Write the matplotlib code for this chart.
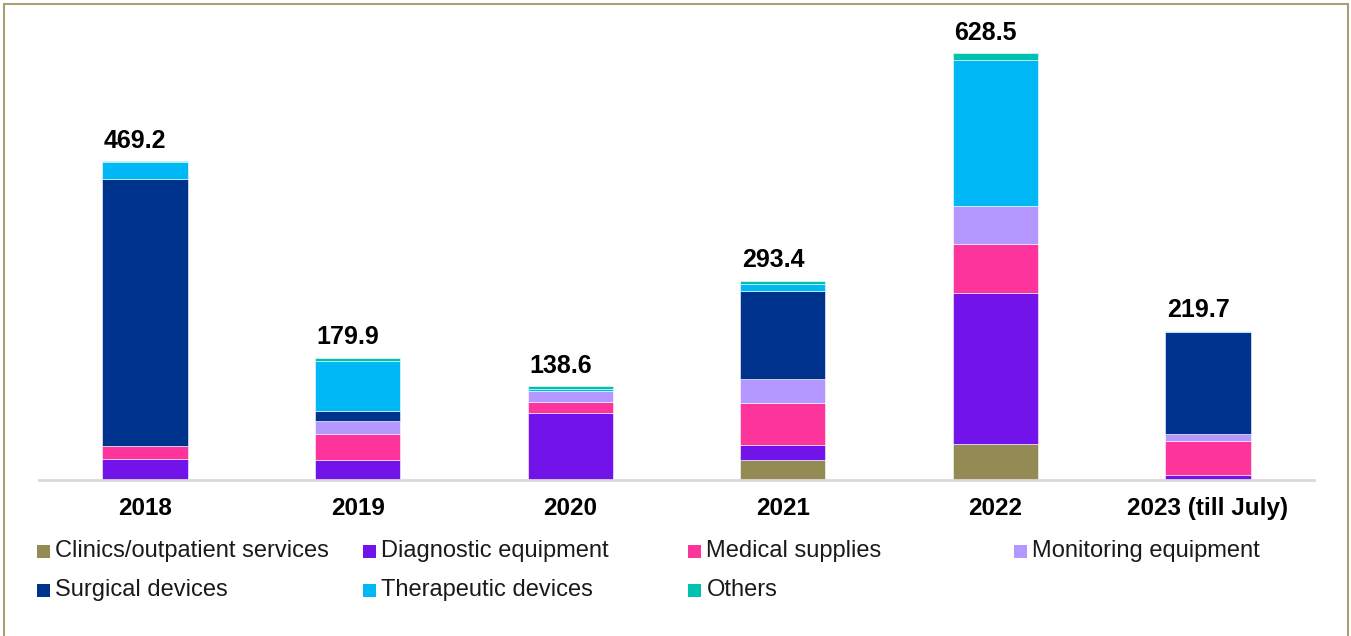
import matplotlib
matplotlib.use("Agg")
import matplotlib.pyplot as plt
from matplotlib.patches import Rectangle

years = ["2018", "2019", "2020", "2021", "2022", "2023 (till July)"]
totals = [469.2, 179.9, 138.6, 293.4, 628.5, 219.7]

segments = ["Clinics/outpatient services", "Diagnostic equipment", "Medical supplies",
            "Monitoring equipment", "Surgical devices", "Therapeutic devices", "Others"]
clinics = [0.0, 0.0, 0.0, 29.6, 53.7, 0.0]
diagnostic = [31.0, 29.5, 99.0, 21.2, 221.5, 7.4]
medical = [19.5, 38.3, 15.5, 62.2, 72.9, 49.4]
monitoring = [0.0, 19.5, 16.5, 36.0, 55.6, 10.9]
surgical = [393.0, 14.5, 0.0, 129.6, 0.0, 150.6]
therapeutic = [24.5, 72.8, 3.3, 9.9, 214.5, 1.4]
others = [1.2, 5.3, 4.3, 4.9, 10.3, 0.0]

colors = ["#948A54", "#7213EA", "#FD349C", "#B497FF", "#00338D", "#00B8F5", "#00C0AE"]

W, H = 1351, 636
fig = plt.figure(figsize=(W / 100, H / 100), dpi=100)
ax = fig.add_axes([38.7 / W, 1 - 480 / H, (1314.3 - 38.7) / W, (480 - 20) / H])

series = [clinics, diagnostic, medical, monitoring, surgical, therapeutic, others]
x = list(range(len(years)))
bottom = [0.0] * len(years)
for name, vals, col in zip(segments, series, colors):
    ax.bar(x, vals, width=0.4, bottom=bottom, color=col, label=name,
           edgecolor="white", linewidth=0.4)
    bottom = [b + v for b, v in zip(bottom, vals)]

for xi, t in zip(x, totals):
    ax.annotate(f"{t:.1f}", xy=(xi, t), xytext=(-7, 6), textcoords="offset points",
                ha="center", va="bottom", fontsize=18, fontweight="bold",
                family="Liberation Sans", color="black")

ax.set_xlim(-0.5, len(years) - 0.5)
ax.set_ylim(0, 628.5 * 460 / 427)
ax.set_yticks([])
ax.set_xticks(x)
ax.set_xticklabels(years, fontsize=17.5, fontweight="bold", family="Liberation Sans")
ax.tick_params(axis="x", length=0, pad=12)
for s in ["top", "right", "left"]:
    ax.spines[s].set_visible(False)
ax.spines["bottom"].set_color("#D9D9D9")
ax.spines["bottom"].set_linewidth(2)

# legend laid out row by row in four evenly spaced columns
col_x0, col_step = 37, 325.7
row_y = [551, 590]
box = 13
for i, (name, col) in enumerate(zip(segments, colors)):
    cx = col_x0 + (i % 4) * col_step
    cy = row_y[i // 4]
    fig.patches.append(Rectangle((cx / W, 1 - (cy + box / 2) / H), box / W, box / H,
                                 transform=fig.transFigure, facecolor=col,
                                 edgecolor="none"))
    fig.text((cx + box + 5) / W, 1 - cy / H, name, ha="left", va="center",
             fontsize=17, family="Liberation Sans", color="#1a1a1a")

# outer frame
fig.patches.append(Rectangle((4 / W, -0.01), (1348 - 4) / W, 1 - 4 / H + 0.01,
                             transform=fig.transFigure, fill=False,
                             edgecolor="#A8A070", linewidth=1.5))

fig.savefig("out.png", dpi=100)
